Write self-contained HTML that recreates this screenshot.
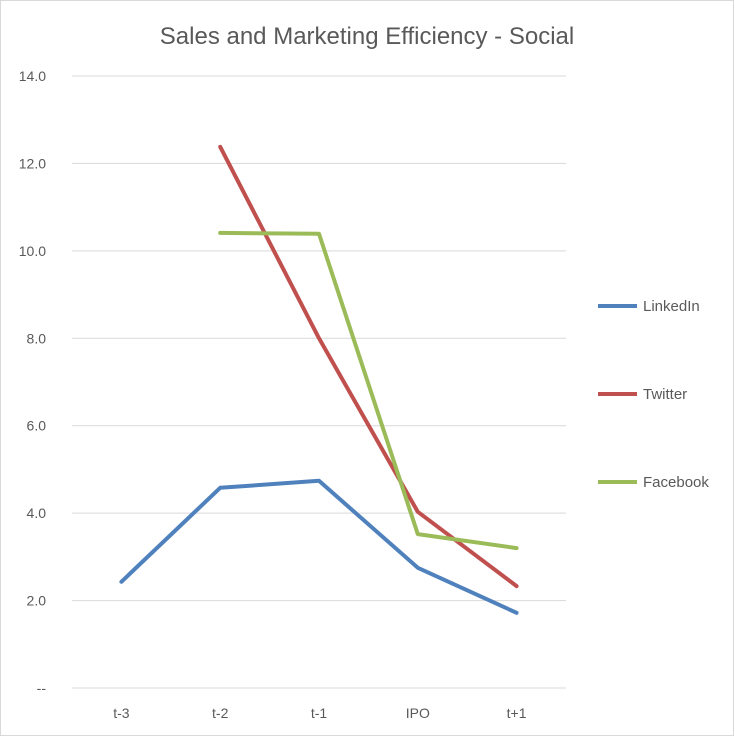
<!DOCTYPE html>
<html><head><meta charset="utf-8"><style>
html,body{margin:0;padding:0;background:#fff;}
svg{display:block;font-family:"Liberation Sans",sans-serif;}
</style></head><body>
<svg id="chart" width="735" height="737" viewBox="0 0 735 737">
<rect x="0.5" y="0.5" width="733" height="735" fill="#fff" stroke="#d9d9d9"/>
<text x="367" y="44" text-anchor="middle" font-size="24" fill="#595959">Sales and Marketing Efficiency - Social</text>
<g id="grid"></g><g id="yticks"></g><g id="xticks"></g><g id="series"></g><g id="legend"></g>
</svg>
<script>
const categories=["t-3","t-2","t-1","IPO","t+1"];
const yTicks=[0,2,4,6,8,10,12,14];
const yTickLabels=["--","2.0","4.0","6.0","8.0","10.0","12.0","14.0"];
const seriesNames=["LinkedIn","Twitter","Facebook"];
const seriesColors=["#4f81bd","#c0504d","#9bbb59"];
const linkedin=[2.43,4.58,4.74,2.75,1.72];
const twitter=[null,12.38,8.0,4.03,2.33];
const facebook=[null,10.41,10.39,3.52,3.2];
const seriesData=[linkedin,twitter,facebook];
const NS="http://www.w3.org/2000/svg";
const x0=72,x1=566,y0=688,y1=76,yMax=14;
function xs(i){return x0+(i+0.5)*(x1-x0)/categories.length;}
function ys(v){return y0-(v/yMax)*(y0-y1);}
function mk(t,a,p){const e=document.createElementNS(NS,t);for(const k in a)e.setAttribute(k,a[k]);p.appendChild(e);return e;}
const grid=document.getElementById('grid'),yt=document.getElementById('yticks'),xt=document.getElementById('xticks'),sg=document.getElementById('series'),lg=document.getElementById('legend');
yTicks.forEach((v,i)=>{
 const l=mk('line',{x1:x0,x2:x1,y1:ys(v),y2:ys(v),stroke:'#d9d9d9','stroke-width':1},grid);
 
 
 const t=mk('text',{x:46,y:ys(v)+5,'text-anchor':'end','font-size':14,fill:'#595959'},yt);
 t.textContent=yTickLabels[i];
 
 
});
categories.forEach((c,i)=>{
 const t=mk('text',{x:xs(i),y:y0+30,'text-anchor':'middle','font-size':14,fill:'#595959'},xt);
 t.textContent=c;
 
 
});
seriesData.forEach((d,s)=>{
 const pts=[];d.forEach((v,i)=>{if(v!=null)pts.push(xs(i)+','+ys(v));});
 const p=mk('polyline',{points:pts.join(' '),fill:'none',stroke:seriesColors[s],'stroke-width':4,'stroke-linejoin':'round','stroke-linecap':'round'},sg);
 
 
 const ly=306+s*88;
 const ll=mk('line',{x1:598,x2:637,y1:ly,y2:ly,stroke:seriesColors[s],'stroke-width':4},lg);
 
 
 const lt=mk('text',{x:643,y:ly+5,'font-size':15,fill:'#595959'},lg);
 lt.textContent=seriesNames[s];
 
 
});
</script>
</body></html>
